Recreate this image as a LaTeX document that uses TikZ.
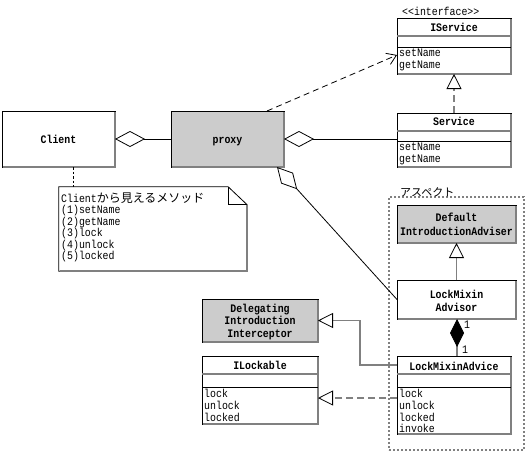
\documentclass[tikz,border=0pt]{standalone}
\usepackage{fontspec}
\setmonofont[FakeStretch=0.86]{Liberation Mono}
\newfontfamily\jpfont{Noto Sans CJK JP}
\usetikzlibrary{arrows.meta,calc}
\definecolor{boxgray}{RGB}{204,204,204}
\definecolor{lgray}{RGB}{128,128,128}
\tikzset{
  cls/.style={draw=black, line width=0.8pt, inner sep=0pt, outer sep=0pt},
  shadeline/.style={draw=lgray, line width=1.6pt},
  hdrline/.style={draw=lgray, line width=1.4pt},
  cmpline/.style={draw=black, line width=0.8pt},
  cname/.style={font=\ttfamily\bfseries\fontsize{11.5}{12}\selectfont, inner sep=0pt, anchor=base},
  meth/.style={font=\ttfamily\fontsize{11.5}{12}\selectfont, inner sep=0pt, anchor=base west},
  jptext/.style={font=\jpfont\fontsize{11}{12}\selectfont, inner sep=0pt, anchor=base west},
  agg/.style={draw=black, line width=0.8pt, {Diamond[open,length=30pt,width=16pt,line width=0.8pt]}-},
  dep/.style={draw=black, line width=0.8pt, dash pattern=on 6pt off 4pt, -{Straight Barb[length=9pt,width=12pt,line width=0.8pt]}},
  gen/.style={draw=lgray, line width=1.5pt, -{Triangle[open,length=15pt,width=15pt,line width=0.8pt,color=black]}},
  real/.style={gen, dash pattern=on 7pt off 4pt},
  comp/.style={draw=lgray, line width=1.5pt, {Diamond[length=28pt,width=14pt,line width=0.8pt,color=black,fill=black]}-},
  notelink/.style={draw=black, line width=0.8pt, dash pattern=on 2.5pt off 2pt},
  aspectbox/.style={draw=lgray, line width=1.3pt, dash pattern=on 2pt off 2pt, inner sep=0pt},
}
% name, x1, y1, x2, y2, fill
\newcommand\clsbox[6]{%
  \node[cls, fill=#6, minimum width={(#4)-(#2)}, minimum height={(#5)-(#3)}] (#1) at ({((#2)+(#4))/2},{((#3)+(#5))/2}) {};
  \draw[shadeline] ($(#1.north east)+(0,1)$) -- (#1.south east) -- ($(#1.south west)+(1,0)$);
}
\begin{document}
\begin{tikzpicture}[x=1pt,y=-1pt]
\useasboundingbox[fill=white] (0,0) rectangle (528,453);

% aspect frame
\node[aspectbox, minimum width=135, minimum height=253] (aspect) at (456.5,323.5) {};
\node[jptext] (aspect-t) at (400,196) {アスペクト};

% Client
\clsbox{client}{2}{111}{115}{167}{white}
\node[cname] (client-t) at (58.5,143) {Client};

% proxy
\clsbox{proxy}{171}{111}{284}{167}{boxgray}
\node[cname] (proxy-t) at (227.5,143) {proxy};

% IService
\node[meth] (iservice-st) at (402,15) {<<interface>>};
\clsbox{iservice}{397}{18}{511}{74}{white}
\draw[hdrline] (397,36) -- (511,36);
\draw[cmpline] (397,47) -- (511,47);
\node[cname] (iservice-t) at (454,31) {IService};
\node[meth] (iservice-m1) at (399,56) {setName};
\node[meth] (iservice-m2) at (399,68) {getName};

% Service
\clsbox{service}{397}{113}{511}{167}{white}
\draw[hdrline] (397,131) -- (511,131);
\draw[cmpline] (397,141) -- (511,141);
\node[cname] (service-t) at (454,125) {Service};
\node[meth] (service-m1) at (399,150) {setName};
\node[meth] (service-m2) at (399,162) {getName};

% Note
\node[inner sep=0pt, minimum width=188, minimum height=84] (note) at (153,229) {};
\draw[draw=black, line width=0.8pt, fill=white] (note.north west) -- ($(note.north east)+(-19,0)$) -- ($(note.north east)+(0,18)$) -- (note.south east) -- (note.south west) -- cycle;
\draw[draw=black, line width=0.8pt] ($(note.north east)+(-19,0)$) -- ($(note.north east)+(-19,18)$) -- ($(note.north east)+(0,18)$);
\draw[shadeline] ($(note.north east)+(0,18)$) -- (note.south east) -- ($(note.south west)+(1,0)$);
\node[meth] (note-l0) at (61,202) {Client\jpfont\fontsize{12}{12}\selectfont から見えるメソッド};
\node[meth] (note-l1) at (61,213.5) {(1)setName};
\node[meth] (note-l2) at (61,225) {(2)getName};
\node[meth] (note-l3) at (61,236.5) {(3)lock};
\node[meth] (note-l4) at (61,248) {(4)unlock};
\node[meth] (note-l5) at (61,259.5) {(5)locked};

% DefaultIntroductionAdviser
\clsbox{defadv}{397}{205}{516}{243}{boxgray}
\node[cname] (defadv-t1) at (456.5,221) {Default};
\node[cname] (defadv-t2) at (456.5,235) {IntroductionAdviser};

% LockMixin Advisor
\clsbox{advisor}{397}{280}{516}{319}{white}
\node[cname] (advisor-t1) at (456.5,298) {LockMixin};
\node[cname] (advisor-t2) at (456.5,311) {Advisor};

% LockMixinAdvice
\clsbox{advice}{397}{356}{511}{434}{white}
\draw[hdrline] (397,374) -- (511,374);
\draw[cmpline] (397,387) -- (511,387);
\node[cname] (advice-t) at (454,370) {LockMixinAdvice};
\node[meth] (advice-m1) at (399,397) {lock};
\node[meth] (advice-m2) at (399,409) {unlock};
\node[meth] (advice-m3) at (399,421) {locked};
\node[meth] (advice-m4) at (399,432.5) {invoke};

% Delegating Introduction Interceptor
\clsbox{deleg}{202}{299}{318}{342}{boxgray}
\node[cname] (deleg-t1) at (260,312) {Delegating};
\node[cname] (deleg-t2) at (260,324.5) {Introduction};
\node[cname] (deleg-t3) at (260,337) {Interceptor};

% ILockable
\clsbox{ilock}{202}{356}{318}{424}{white}
\draw[hdrline] (202,374) -- (318,374);
\draw[cmpline] (202,387) -- (318,387);
\node[cname] (ilock-t) at (260,369) {ILockable};
\node[meth] (ilock-m1) at (204,397) {lock};
\node[meth] (ilock-m2) at (204,409) {unlock};
\node[meth] (ilock-m3) at (204,421) {locked};

% ---- connectors ----
\draw[agg] (client.east) -- (proxy.west);
\draw[agg] (proxy.east) -- (proxy.east -| service.west);
\coordinate (dep-s) at ($(proxy.north east)+(-17,0)$);
\coordinate (dep-e) at ($(iservice.south west)+(0,-19)$);
\draw[dep] (dep-s) -- (dep-e);
\coordinate (pa-s) at ($(proxy.south east)+(-7,0)$);
\draw[agg] (pa-s) -- (advisor.west);
\coordinate (cn-s) at ($(client.south)+(15,0)$);
\draw[notelink] (cn-s) -- (cn-s |- note.north);
\draw[real] (service.north) -- (iservice.south);
\draw[gen] (advisor.north) -- (defadv.south);
\coordinate (ad-s) at ($(advice.north west)+(0,9)$);
\draw[gen] (ad-s) -| ($(deleg.east)+(42,0)$) -- (deleg.east);
\coordinate (rl-s) at ($(advice.north west)+(0,42)$);
\draw[real] (rl-s) -- (rl-s -| ilock.east);
\coordinate (cp-s) at ($(advisor.south)+(0.5,0)$);
\draw[comp] (cp-s) -- (cp-s |- advice.north);
\node[meth] (m-1a) at (464,328) {1};
\node[meth] (m-1b) at (462,353) {1};
\end{tikzpicture}
\end{document}
